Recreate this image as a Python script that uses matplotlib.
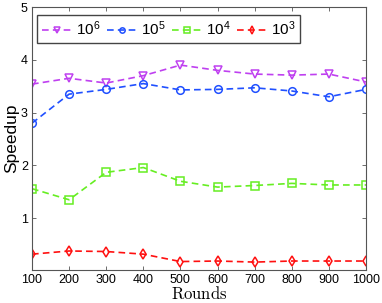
import numpy as np
import matplotlib
matplotlib.use('Agg')
import matplotlib.pyplot as plt

rounds = [100, 200, 300, 400, 500, 600, 700, 800, 900, 1000]
speedup_1e6 = [3.54, 3.65, 3.56, 3.70, 3.90, 3.80, 3.73, 3.71, 3.73, 3.58]
speedup_1e5 = [2.80, 3.35, 3.44, 3.55, 3.43, 3.44, 3.47, 3.41, 3.30, 3.44]
speedup_1e4 = [1.56, 1.35, 1.87, 1.96, 1.70, 1.59, 1.62, 1.66, 1.63, 1.63]
speedup_1e3 = [0.32, 0.38, 0.37, 0.32, 0.18, 0.19, 0.17, 0.19, 0.19, 0.19]

labels = ['$10^6$', '$10^5$', '$10^4$', '$10^3$']
colors = ['#bf40f0', '#2050ff', '#66ee22', '#ff1010']
markers = ['v', 'o', 's', 'd']

plt.rcParams['font.family'] = ['Liberation Sans', 'DejaVu Sans']
plt.rcParams['mathtext.fontset'] = 'custom'
plt.rcParams['mathtext.rm'] = 'Liberation Sans'
plt.rcParams['mathtext.it'] = 'Liberation Sans'

fig = plt.figure(figsize=[3.82, 3.03], dpi=100)
ax = fig.add_axes([32 / 382, 1 - 270 / 303, 334 / 382, 263 / 303])

series = [speedup_1e6, speedup_1e5, speedup_1e4, speedup_1e3]
for vals, lab, col, mk in zip(series, labels, colors, markers):
    ax.plot(rounds, vals, linestyle=(0, (4, 2.5)), color=col, lw=1.2,
            marker=mk, markersize=5.5, markerfacecolor='none',
            markeredgecolor=col, markeredgewidth=1.1, label=lab)

ax.set_xlim(100, 1000)
ax.set_ylim(0.02, 5)
ax.set_xticks(rounds)
ax.set_yticks([1, 2, 3, 4, 5])
ax.tick_params(direction='in', top=True, right=True, labelsize=9,
               color='#555555', length=3, width=0.6, pad=3)
for sp in ax.spines.values():
    sp.set_color('#555555')
    sp.set_linewidth(0.8)

ax.set_xlabel(r'$\mathrm{Rounds}$', math_fontfamily='cm', fontsize=12,
              labelpad=-1)
ax.set_ylabel('Speedup', fontsize=12.5, labelpad=1)

leg = ax.legend(loc='upper left', bbox_to_anchor=(5 / 334, 1 - 8 / 263),
                ncol=4, fontsize=11, handlelength=2.0, markerscale=0.7,
                handletextpad=0.25, columnspacing=0.4, borderpad=0.3,
                borderaxespad=0, fancybox=False, framealpha=1,
                edgecolor='#444444')
leg.get_frame().set_linewidth(1.0)

plt.savefig('out.png', dpi=100)
